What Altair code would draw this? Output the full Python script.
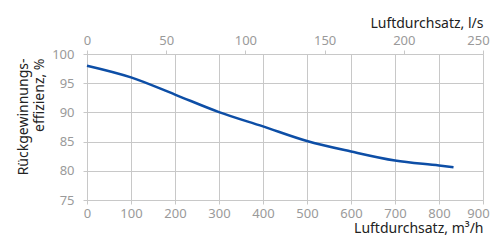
import altair as alt
import pandas as pd

flow_m3h = [0, 100, 200, 300, 400, 500, 600, 700, 800, 833]
efficiency = [98.0, 96.0, 93.05, 90.05, 87.6, 85.1, 83.3, 81.75, 80.9, 80.6]

df = pd.DataFrame({"m3h": flow_m3h, "eff": efficiency})
df["ls"] = df["m3h"] / 3.6

FONT = "Noto Sans"
LABEL_COL = "#9a9a9a"
TITLE_COL = "#222222"
GRID_COL = "#c8c8c8"

y_enc = alt.Y(
    "eff:Q",
    scale=alt.Scale(domain=[75, 100], nice=False, zero=False),
    axis=alt.Axis(
        values=[75, 80, 85, 90, 95, 100],
        title=["Rückgewinnungs-", "effizienz, %"],
        titleAnchor="end",
        titleAlign="right",
        titleAngle=-90,
        titleBaseline="alphabetic",
        titleX=-60,
        titleY=4,
        titleLineHeight=16,
        tickSize=4,
        labelPadding=9,
    ),
)

line = alt.Chart(df).mark_line(
    color="#0d4ea6", strokeWidth=2.5, interpolate="monotone"
).encode(
    x=alt.X(
        "m3h:Q",
        scale=alt.Scale(domain=[0, 900], nice=False),
        axis=alt.Axis(
            orient="bottom",
            values=list(range(0, 901, 100)),
            title="Luftdurchsatz, m³/h",
            titleAnchor="end",
            titleAlign="right",
            titleBaseline="alphabetic",
            titleX=396,
            titleY=32,
            tickSize=4,
            labelPadding=3,
            labelFlush=False,
            labelOverlap=False,
            labelBound=False,
            labelOffset={"condition": {"test": "datum.value == 900", "value": -5}, "value": 0},
        ),
    ),
    y=y_enc,
)

top = alt.Chart(df).mark_line(opacity=0).encode(
    x=alt.X(
        "ls:Q",
        scale=alt.Scale(domain=[0, 250], nice=False),
        axis=alt.Axis(
            orient="top",
            values=[0, 50, 100, 150, 200, 250],
            title="Luftdurchsatz, l/s",
            titleAnchor="end",
            titleAlign="right",
            titlePadding=4,
            tickSize=4,
            labelPadding=3,
            labelFlush=False,
            labelOverlap=False,
            labelBound=False,
            labelOffset={"condition": {"test": "datum.value == 250", "value": -5}, "value": 0},
            grid=False,
        ),
    ),
    y=y_enc,
)

chart = (
    alt.layer(line, top)
    .resolve_scale(x="independent")
    .properties(
        width=396,
        height=146,
        autosize=alt.AutoSizeParams(type="none"),
        padding={"left": 79, "top": 46, "right": 7, "bottom": 37},
    )
    .configure_view(stroke=None)
    .configure_axis(
        labelFont=FONT,
        titleFont=FONT,
        labelFontSize=13,
        titleFontSize=14,
        titleFontWeight="normal",
        labelColor=LABEL_COL,
        titleColor=TITLE_COL,
        gridColor=GRID_COL,
        gridWidth=1,
        gridOpacity=1,
        domainColor=GRID_COL,
        tickColor=GRID_COL,
        domainWidth=1,
        tickWidth=1,
    )
)

chart.save("out.html", embed_options={"renderer": "svg", "actions": False})
